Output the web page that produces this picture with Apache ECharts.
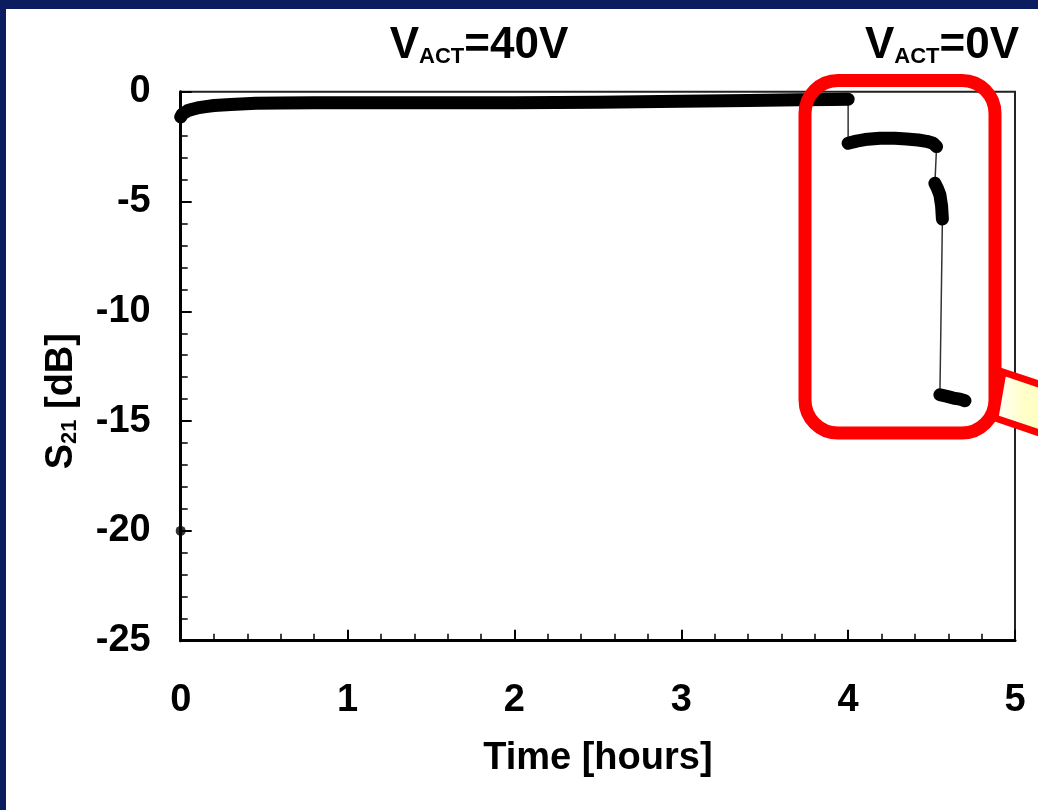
<!DOCTYPE html>
<html>
<head>
<meta charset="utf-8">
<script src="https://cdn.jsdelivr.net/npm/echarts@6/dist/echarts.min.js"></script>
<style>
html,body{margin:0;padding:0;background:#fff;}
#c{width:1038px;height:810px;}
</style>
</head>
<body>
<div id="c"></div>
<script>
// ---- data (time in hours, S21 in dB) ----
// V_ACT = 40 V segment
const t40 = [0, 0.01, 0.02, 0.04, 0.07, 0.1, 0.15, 0.2, 0.3, 0.45, 0.6, 0.8, 1.0, 1.5, 2.0, 2.5, 3.0, 3.4, 3.7, 3.9, 4.0];
const s40 = [-1.15, -1.02, -0.95, -0.87, -0.8, -0.74, -0.68, -0.63, -0.58, -0.53, -0.51, -0.5, -0.5, -0.5, -0.5, -0.48, -0.44, -0.4, -0.37, -0.35, -0.34];
// V_ACT = 0 V, first plateau
const t0a = [4.0, 4.05, 4.1, 4.19, 4.28, 4.35, 4.42, 4.47, 4.51, 4.53];
const s0a = [-2.35, -2.25, -2.18, -2.12, -2.12, -2.15, -2.2, -2.26, -2.35, -2.5];
// V_ACT = 0 V, second step
const t0b = [4.52, 4.535, 4.55, 4.56, 4.565];
const s0b = [-4.17, -4.4, -4.7, -5.2, -5.8];
// V_ACT = 0 V, final level
const t0c = [4.55, 4.59, 4.63, 4.67, 4.70];
const s0c = [-13.8, -13.87, -13.95, -14.0, -14.07];
// isolated point
const tOut = [0];
const sOut = [-20];

const xTicks = [0, 1, 2, 3, 4, 5];
const yTicks = [0, -5, -10, -15, -20, -25];
const annotations = ['40V', '0V'];

// ---- build ----
const clusters = [[t40, s40], [t0a, s0a], [t0b, s0b], [t0c, s0c]];
const thin = [];
const band = [];
clusters.forEach(([t, s], ci) => {
  if (ci > 0) band.push([null, null]);
  t.forEach((v, i) => { thin.push([v, s[i]]); band.push([v, s[i]]); });
});
const outPts = tOut.map((v, i) => [v, sOut[i]]);

const FONT = '"Liberation Sans", Arial, sans-serif';
const chart = echarts.init(document.getElementById('c'));

function vact(label) {
  return '{v|V}{s|ACT}{v|=' + label + '}';
}
const vRich = {
  v: {fontSize: 44, fontWeight: 'bold', fontFamily: FONT, fill: '#000', color: '#000', lineHeight: 50, verticalAlign: 'bottom'},
  s: {fontSize: 22, fontWeight: 'bold', fontFamily: FONT, fill: '#000', color: '#000', lineHeight: 22, verticalAlign: 'bottom'}
};

chart.setOption({
  animation: false,
  backgroundColor: '#ffffff',
  grid: {left: 180.7, right: 23, top: 91.7, bottom: 169.3, show: true, borderColor: '#222', borderWidth: 2, backgroundColor: 'transparent'},
  xAxis: {
    type: 'value', min: xTicks[0], max: xTicks[xTicks.length - 1], interval: 1,
    name: 'Time [hours]', nameLocation: 'middle', nameGap: 99,
    nameTextStyle: {fontSize: 38, fontWeight: 'bold', color: '#000', fontFamily: FONT},
    axisLine: {onZero: false, lineStyle: {color: '#000', width: 3}},
    axisTick: {inside: true, length: 11, lineStyle: {color: '#000', width: 2}},
    minorTick: {show: true, splitNumber: 5, length: 7, lineStyle: {color: '#000', width: 1.5}},
    splitLine: {show: false},
    axisLabel: {fontSize: 38, fontWeight: 'bold', color: '#000', fontFamily: FONT, margin: 41}
  },
  yAxis: {
    type: 'value', min: yTicks[yTicks.length - 1], max: yTicks[0], interval: 5,
    name: '{a|S}{b|21}{a| [dB]}', nameLocation: 'middle', nameGap: 100, nameRotate: 90,
    nameTextStyle: {
      padding: [0, 70, 0, 0],
      rich: {
        a: {fontSize: 38, fontWeight: 'bold', color: '#000', fontFamily: FONT, lineHeight: 44, verticalAlign: 'bottom'},
        b: {fontSize: 22, fontWeight: 'bold', color: '#000', fontFamily: FONT, lineHeight: 18, verticalAlign: 'bottom'}
      }
    },
    axisLine: {onZero: false, lineStyle: {color: '#000', width: 3}},
    axisTick: {inside: true, length: 11, lineStyle: {color: '#000', width: 2}},
    minorTick: {show: true, splitNumber: 5, length: 7, lineStyle: {color: '#000', width: 1.5}},
    splitLine: {show: false},
    axisLabel: {fontSize: 38, fontWeight: 'bold', color: '#000', fontFamily: FONT, margin: 30}
  },
  series: [
    {type: 'line', data: thin, showSymbol: false, lineStyle: {color: '#333', width: 1.5}, z: 3},
    {type: 'line', data: band, showSymbol: false, connectNulls: false,
     lineStyle: {color: '#000', width: 13, cap: 'round', join: 'round'}, z: 4},
    {type: 'scatter', data: outPts, symbol: 'circle', symbolSize: 10, itemStyle: {color: '#000'}, z: 5}
  ],
  graphic: [
    {type: 'rect', shape: {x: 0, y: 0, width: 1038, height: 9}, style: {fill: '#0b1d5e'}, z: 100},
    {type: 'rect', shape: {x: 0, y: 0, width: 6, height: 810}, style: {fill: '#0b1d5e'}, z: 100},
    {type: 'text', x: 479, y: 68, style: {text: vact(annotations[0]), rich: vRich, align: 'center', verticalAlign: 'bottom'}, z: 50},
    {type: 'text', x: 942, y: 68, style: {text: vact(annotations[1]), rich: vRich, align: 'center', verticalAlign: 'bottom'}, z: 50},
    {type: 'rect', shape: {x: 805, y: 80.5, width: 190, height: 352.5, r: 33}, style: {fill: 'none', stroke: '#ff0000', lineWidth: 13}, z: 60},
    {type: 'polygon', shape: {points: [[1003, 372], [1098, 404], [1090, 450], [995, 418]]},
     style: {stroke: '#ff0000', lineWidth: 7,
       fill: new echarts.graphic.LinearGradient(0, 0, 1, 0, [{offset: 0, color: '#ffffff'}, {offset: 0.3, color: '#ffffc8'}, {offset: 1, color: '#ffffb0'}])}, z: 61}
  ]
});
</script>
</body>
</html>
